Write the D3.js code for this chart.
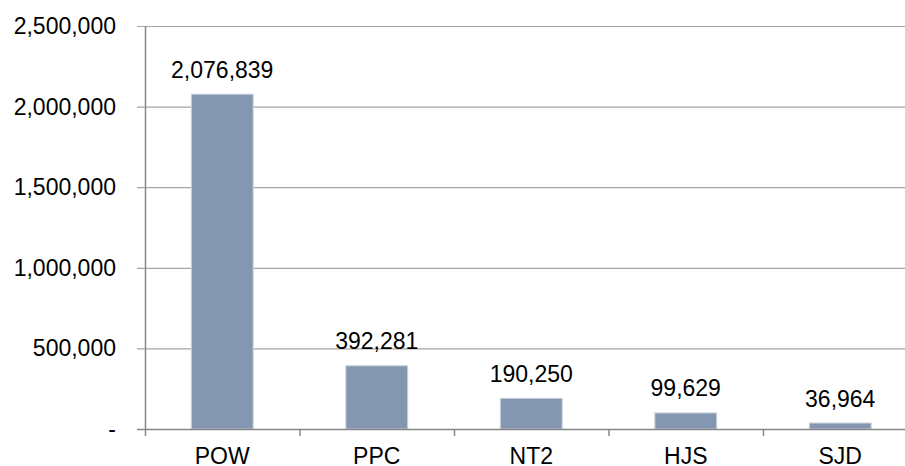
<!DOCTYPE html>
<html>
<head>
<meta charset="utf-8">
<title>bar chart</title>
<style>
  body { margin: 0; background: #fff; }
  svg { display: block; }
  text { font-family: "Liberation Sans", Arial, sans-serif; fill: #000; }
</style>
</head>
<body>
<svg width="905" height="466"></svg>
<script src="https://cdn.jsdelivr.net/npm/d3@7"></script>
<script>
var categories = ['POW', 'PPC', 'NT2', 'HJS', 'SJD']
var values = [2076839, 392281, 190250, 99629, 36964]
var yTicks = [0, 500000, 1000000, 1500000, 2000000, 2500000]

var svg = d3.select('svg')
var plotLeft = 145, plotTop = 26, plotBottom = 429
var bandW = 154.5

var x = d3.scaleBand()
    .domain(categories)
    .range([plotLeft, plotLeft + bandW * categories.length])
    .paddingInner(0).paddingOuter(0)

var y = d3.scaleLinear()
    .domain([0, 2500000])
    .range([plotBottom, plotTop])

var fmt = d3.format(',')

// gridlines
svg.selectAll('line.grid')
    .data(yTicks.slice(1))
    .enter().append('line')
    .attr('class', 'grid')
    .attr('x1', plotLeft - 8)
    .attr('x2', 905)
    .attr('y1', function(d){ return y(d) + 0.5 })
    .attr('y2', function(d){ return y(d) + 0.5 })
    .attr('stroke', '#a6a6a6')
    .attr('stroke-width', 1.2)

// y tick labels
svg.selectAll('text.ylab')
    .data(yTicks)
    .enter().append('text')
    .attr('class', 'ylab')
    .attr('x', 116)
    .attr('y', function(d){ return y(d) })
    .attr('dy', '0.35em')
    .attr('text-anchor', 'end')
    .style('font-size', '23px')
    .text(function(d){ return d === 0 ? '-' : fmt(d) })

// bars
svg.selectAll('rect.bar')
    .data(values)
    .enter().append('rect')
    .attr('class', 'bar')
    .attr('x', function(d, i){ return x(categories[i]) + bandW * 0.3 })
    .attr('width', bandW * 0.4)
    .attr('y', function(d){ return y(d) })
    .attr('height', function(d){ return plotBottom - y(d) })
    .attr('fill', '#8497b0')
    .attr('stroke', '#c9d2de')
    .attr('stroke-width', 1)

// value labels
svg.selectAll('text.vlab')
    .data(values)
    .enter().append('text')
    .attr('class', 'vlab')
    .attr('x', function(d, i){ return x(categories[i]) + bandW / 2 })
    .attr('y', function(d){ return y(d) - 16.5 })
    .attr('text-anchor', 'middle')
    .style('font-size', '23px')
    .text(function(d){ return fmt(d) })

// y axis line
svg.append('line')
    .attr('x1', plotLeft + 0.5).attr('x2', plotLeft + 0.5)
    .attr('y1', plotTop).attr('y2', plotBottom + 1)
    .attr('stroke', '#868686').attr('stroke-width', 1.5)

// x axis line
svg.append('line')
    .attr('x1', plotLeft - 8).attr('x2', 905)
    .attr('y1', plotBottom + 0.5).attr('y2', plotBottom + 0.5)
    .attr('stroke', '#868686').attr('stroke-width', 1.5)

// category ticks
svg.selectAll('line.xtick')
    .data(d3.range(categories.length + 1))
    .enter().append('line')
    .attr('class', 'xtick')
    .attr('x1', function(i){ return plotLeft + bandW * i + 0.5 })
    .attr('x2', function(i){ return plotLeft + bandW * i + 0.5 })
    .attr('y1', plotBottom).attr('y2', plotBottom + 7)
    .attr('stroke', '#868686').attr('stroke-width', 1.5)

// category labels
svg.selectAll('text.xlab')
    .data(categories)
    .enter().append('text')
    .attr('class', 'xlab')
    .attr('x', function(d){ return x(d) + bandW / 2 })
    .attr('y', 464)
    .attr('text-anchor', 'middle')
    .style('font-size', '23px')
    .text(function(d){ return d })
</script>
</body>
</html>
